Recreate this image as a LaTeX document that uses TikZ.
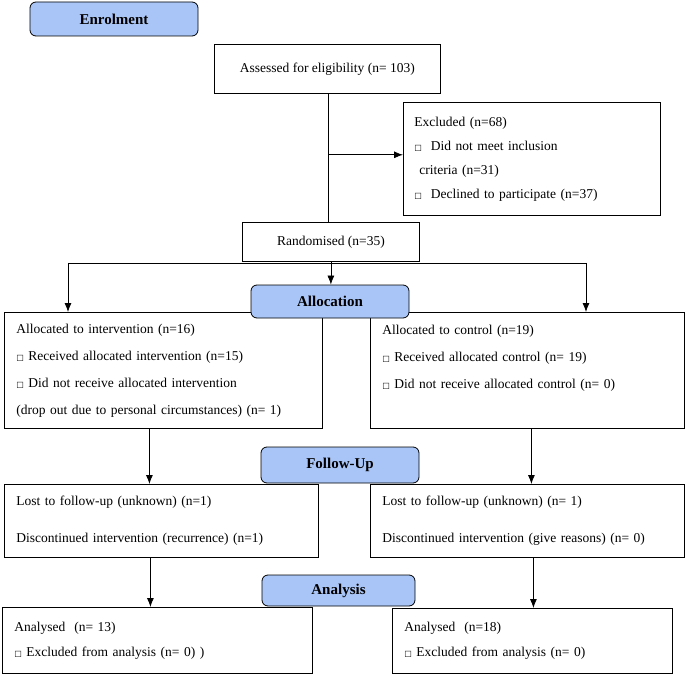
\documentclass[tikz,border=0pt]{standalone}
\usepackage{fontspec}
\setmainfont{Liberation Serif}
\newfontfamily\symfont{DejaVu Sans}
\usetikzlibrary{positioning,calc,arrows.meta}
\definecolor{hdrblue}{HTML}{A9C5F7}
\newcommand{\sqbox}{{\symfont\fontsize{8}{8}\selectfont □}}

\begin{document}
\begin{tikzpicture}[x=1pt, y=-1pt,
		box/.style={draw, rectangle, anchor=north west, align=left, inner xsep=12pt, inner ysep=0pt, line width=0.8pt, font=\fontsize{13.5}{27}\selectfont},
		plain/.style={draw, rectangle, anchor=north west, align=center, line width=0.8pt, font=\fontsize{13.5}{16}\selectfont},
		hdr/.style={draw, rectangle, rounded corners=6pt, fill=hdrblue, line width=0.8pt, font=\bfseries\fontsize{15}{17}\selectfont},
		line/.style={-{Latex[length=9pt,width=7pt]}, line width=0.8pt}
		]
		\useasboundingbox (0,0) rectangle (685,676);
		
		% ======================
		% Enrolment
		% ======================
		\node[plain, minimum width=226pt, minimum height=49pt] (assess) at (214,44) {Assessed for eligibility (n= 103)};
		
		\node[box, text width=235pt, minimum height=113pt, inner xsep=11pt, font=\fontsize{13.5}{24}\selectfont] (excl) at (403,102)
		{Excluded (n=68)\\\sqbox\ \ Did not meet inclusion\\\hspace*{5pt}criteria (n=31)\\\sqbox\ \ Declined to participate (n=37)};
		
		\node[plain, minimum width=177pt, minimum height=39pt] (rand) at (242,222) {Randomised (n=35)};
		
		% ======================
		% Allocation
		% ======================
		\node[box, text width=294pt, minimum height=116pt] (inter) at (4,312)
		{Allocated to intervention (n=16)\\\sqbox\ Received allocated intervention (n=15)\\\sqbox\ Did not receive allocated intervention\\(drop out due to personal circumstances) (n= 1)};
		
		\node[box, text width=290pt, minimum height=116pt] (ctrl) at (370,312)
		{Allocated to control (n=19)\\\sqbox\ Received allocated control (n= 19)\\\sqbox\ Did not receive allocated control (n= 0)\\\mbox{}};
		
		% ======================
		% Follow-Up
		% ======================
		\node[box, text width=290pt, minimum height=73pt, font=\fontsize{13.5}{37}\selectfont] (fuL) at (4,484)
		{Lost to follow-up (unknown) (n=1)\\Discontinued intervention (recurrence) (n=1)};
		
		\node[box, text width=290pt, minimum height=73pt, font=\fontsize{13.5}{37}\selectfont] (fuR) at (370,484)
		{Lost to follow-up (unknown) (n= 1)\\Discontinued intervention (give reasons) (n= 0)};
		
		% ======================
		% Analysis
		% ======================
		\node[box, text width=286pt, minimum height=66pt, font=\fontsize{13.5}{25}\selectfont] (anL) at (2,607)
		{Analysed\ \ (n= 13)\\\sqbox\ Excluded from analysis (n= 0) )};
		
		\node[box, text width=256pt, minimum height=65pt, font=\fontsize{13.5}{25}\selectfont] (anR) at (392,608)
		{Analysed\ \ (n=18)\\\sqbox\ Excluded from analysis (n= 0)};
		
		% ======================
		% HEADERS
		% ======================
		\node[hdr, minimum width=168pt, minimum height=34pt] (enrol) at (114,19) {Enrolment};
		\node[hdr, minimum width=158pt, minimum height=33pt] (alloc) at (330,301.5) {Allocation};
		\node[hdr, minimum width=158pt, minimum height=36pt] (follow) at (340,465) {Follow-Up};
		\node[hdr, minimum width=153pt, minimum height=31pt] (analysis) at (338.5,590.5) {Analysis};
		
		% ======================
		% CONNECTIONS
		% ======================
		\coordinate (brk) at ($(assess.south)+(1,61)$);
		\draw[line width=0.8pt] ([xshift=1pt]assess.south) -- ([xshift=1pt]assess.south |- rand.north);
		\draw[line] (brk) -- (brk -| excl.west);
		
		\draw[line] (rand.south) -- (rand.south |- alloc.north);
		\coordinate (splitL) at (68,263);
		\coordinate (splitR) at (586,263);
		\draw[line width=0.8pt] (splitL) -- (splitR);
		\draw[line] (splitL) -- (splitL |- inter.north);
		\draw[line] (splitR) -- (splitR |- ctrl.north);
		
		\draw[line] ([xshift=-14pt]inter.south) -- ([xshift=-14pt]inter.south |- fuL.north);
		\draw[line] ([xshift=4pt]ctrl.south) -- ([xshift=4pt]ctrl.south |- fuR.north);
		
		\draw[line] ([xshift=-11pt]fuL.south) -- ([xshift=-11pt]fuL.south |- anL.north);
		\draw[line] ([xshift=6pt]fuR.south) -- ([xshift=6pt]fuR.south |- anR.north);
		
	\end{tikzpicture}
\end{document}
